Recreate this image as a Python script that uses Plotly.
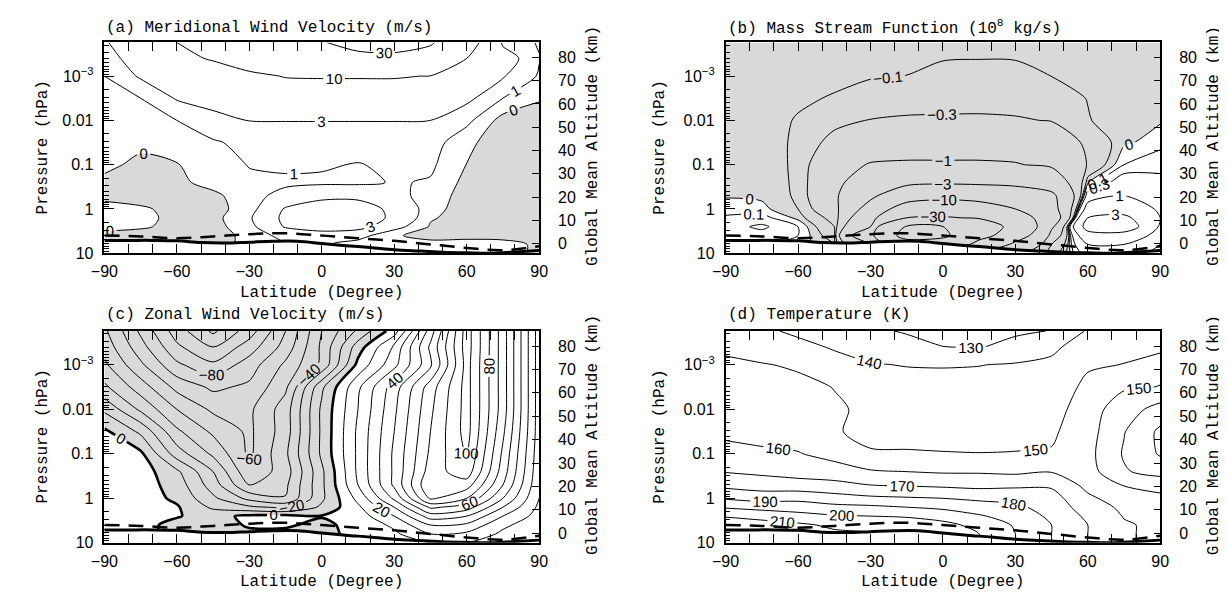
import numpy as np
import plotly.graph_objects as go

# ---------------- data ----------------
LAT = [-90, -75, -60, -45, -30, -15, 0, 15, 30, 45, 60, 75, 90]
# log10(pressure / hPa), top of the plot to bottom
LOGP = [-3.76, -3.4, -3.0, -2.5, -2.0, -1.5, -1.0, -0.6, -0.3, 0.0, 0.2, 0.4, 0.6, 0.8, 1.0]

# (a) meridional wind velocity (m/s)
V_MERID = [
    [2.6, 6, 10, 16, 20, 24, 29, 36, 37, 32, 14, 2.5, 0.8],
    [1.8, 4.5, 8.5, 10.5, 14, 17, 21, 25, 26, 22, 10, 4.5, 1.1],
    [1.0, 3.3, 5.5, 7, 8.5, 10.3, 10.5, 10.5, 10.5, 9.8, 6, 3.2, 0.8],
    [0.6, 1.0, 3.2, 4, 5, 6, 6, 6, 6, 5.5, 3.6, 1.0, 0.1],
    [0.5, 0.6, 1.0, 2.2, 3.05, 3.05, 3.05, 3.05, 3.05, 3.0, 1.3, -0.4, -0.5],
    [0.4, 0.3, 0.5, 0.8, 1.5, 2.0, 2.0, 2.0, 2.0, 1.5, 0.25, -0.6, -0.7],
    [0.3, -0.3, -0.05, 0.5, 1.05, 1.3, 1.2, 0.9, 1.4, 1.2, -0.02, -0.6, -0.6],
    [-0.3, -0.3, -0.2, 0.3, 0.8, 0.7, 0.7, 0.7, 1.1, 0.9, -0.3, -0.6, -0.6],
    [-0.3, -0.3, -0.2, -0.2, 0.5, 1.5, 2.5, 2.5, 1.5, 0.4, -0.3, -0.5, -0.4],
    [0.4, 0.1, -0.2, -0.3, 0.4, 3.2, 4, 4, 2.5, 0.3, -0.4, -0.4, -0.2],
    [0.5, 0.2, -0.2, -0.3, 0.8, 3.5, 4.5, 4.5, 2.5, 0.1, -0.4, -0.4, -0.2],
    [0.3, 0.1, -0.2, -0.3, 0.5, 3.2, 4, 3.8, 1.5, -0.1, -0.4, -0.4, -0.2],
    [-0.3, -0.3, -0.3, -0.3, 0.2, 1.5, 2, 1.5, 0.1, -0.3, -0.3, -0.2, -0.2],
    [-0.3, -0.3, -0.3, -0.3, 0.2, 1.0, 1.2, 0.5, 0.2, 0.3, 0.4, 0.2, -0.1],
    [-0.3, -0.3, -0.3, -0.3, 0.2, 1.0, 1.2, 0.5, 0.2, 0.3, 0.4, 0.2, -0.1],
]
V_LEVELS = [-30, -10, -3, -1, 0, 1, 3, 10, 30]

# (b) mass stream function (1e8 kg/s)
PSI = [
    [-0.02, -0.02, -0.03, -0.04, -0.05, -0.06, -0.07, -0.08, -0.08, -0.06, -0.04, -0.03, -0.02],
    [-0.02, -0.03, -0.04, -0.05, -0.07, -0.085, -0.095, -0.097, -0.095, -0.08, -0.05, -0.03, -0.02],
    [-0.03, -0.04, -0.05, -0.07, -0.09, -0.101, -0.13, -0.15, -0.14, -0.099, -0.06, -0.04, -0.03],
    [-0.03, -0.04, -0.08, -0.11, -0.16, -0.2, -0.22, -0.23, -0.22, -0.17, -0.095, -0.05, -0.03],
    [-0.04, -0.05, -0.11, -0.22, -0.31, -0.33, -0.33, -0.33, -0.32, -0.29, -0.11, -0.02, -0.01],
    [-0.04, -0.05, -0.12, -0.4, -0.55, -0.6, -0.6, -0.6, -0.58, -0.5, -0.25, -0.02, 0.05],
    [-0.04, -0.05, -0.12, -0.7, -1.05, -1.1, -1.1, -1.1, -1.05, -0.85, -0.28, 0.1, 0.2],
    [-0.03, -0.04, -0.12, -0.8, -1.5, -2.4, -2.5, -2.4, -2.2, -1.8, -0.02, 0.5, 0.4],
    [-0.01, -0.02, -0.12, -0.8, -2.5, -5, -6.5, -6, -5, -3.5, 0.5, 1.0, 0.6],
    [0.05, 0.03, -0.1, -0.6, -4, -15, -18, -15, -10, -4, 1.5, 2, 0.8],
    [0.12, 0.15, -0.03, -0.4, -6, -30, -32, -28, -15, -5, 3, 3.5, 1.0],
    [0.2, 0.35, 0.1, -0.3, -10, -105, -100.5, -50, -20, -3.5, 4, 4.5, 0.8],
    [0.15, 0.2, 0.1, -0.2, -20, -130, -115, -40, -15, -2, 2, 2, 0.5],
    [0.1, 0.1, 0.05, -0.1, -10, -60, -60, -20, -8, -1, 1, 1, 0.3],
    [0.1, 0.1, 0.05, -0.1, -5, -30, -30, -10, -4, -0.5, 0.5, 0.5, 0.2],
]
PSI_LEVELS = [-100, -30, -10, -3, -1, -0.3, -0.1, 0, 0.1, 0.3, 1, 3, 10, 30, 100]

# (c) zonal wind velocity (m/s)
U_ZONAL = [
    [-48, -72, -95, -112, -95, -70, -40, -18, 5, 55, 105, 65, 15],
    [-44, -66, -88, -100, -85, -66, -38, -5, 22, 62, 105, 65, 15],
    [-38, -58, -78, -88, -75, -58, -38, 3, 27, 58, 104, 65, 15],
    [-28, -45, -63, -72, -68, -52, -12, 18, 45, 75, 104, 65, 15],
    [-12, -32, -50, -62, -62, -45, -8, 20, 48, 78, 104, 65, 15],
    [2, -12, -38, -52, -62, -45, -8, 22, 50, 80, 104, 62, 15],
    [5, 2, -25, -42, -62, -42, -8, 22, 52, 82, 101, 58, 14],
    [5, 5, -8, -30, -58, -45, -12, 22, 52, 85, 96, 55, 13],
    [5, 5, -4.5, -25, -50, -42, -12, 20, 52, 90, 85, 50, 12],
    [5, 5, -2, -18, -33, -39.5, -12, 13, 42, 82, 70, 40, 10],
    [4, 4, 1, -12, -18, -22, -8, 8, 30, 62, 55, 30, 8],
    [3, 3, 0.5, -3, 2, 3, 0.5, 5, 20, 45, 40, 20, 6],
    [2, 2, -2, -4, 1, 1, -2, 3, 12, 30, 28, 12, 4],
    [2, 2, -2, -4, -2, -2, -2, 2, 8, 20, 18, 8, 3],
    [2, 2, -2, -4, -2, -2, -2, 1, 4, 10, 10, 4, 2],
]

# (d) temperature (K)
TEMP = [
    [146, 142, 138, 134, 132, 129, 126, 126, 128.5, 130.3, 141, 146, 147],
    [148, 146, 143, 139, 137, 134, 130.2, 129.5, 133, 138, 145, 148, 149],
    [152, 150.5, 149, 144, 140.5, 139.7, 139.5, 139.8, 140.8, 142, 149, 150.2, 152],
    [154, 153, 152, 149.8, 146, 143, 143, 143, 144, 145, 152, 151, 149.8],
    [155, 155, 154, 151, 148.5, 145, 145, 145, 146, 147, 154, 145, 136],
    [158, 158, 156, 151, 147, 146, 146, 146.5, 147, 149, 154, 140.5, 128],
    [163, 161, 160.5, 157, 151, 151, 150.5, 150.2, 150.4, 150.5, 153, 139, 129],
    [169.5, 168, 166, 164, 161, 160, 159, 159, 158, 159.5, 154, 141, 136],
    [177, 175, 174, 173, 170, 169, 168, 167, 168, 168.5, 157, 149.5, 147],
    [189, 186, 187, 184, 182, 181, 180, 178, 177, 174, 162, 155, 152],
    [199, 197, 196, 193, 192, 190, 188, 185, 182, 176, 165, 158, 155],
    [209, 206, 203, 201, 200, 199, 196, 191, 186, 178, 168, 159.5, 157],
    [218, 215, 212, 208, 207, 206, 203, 197, 189, 180, 170, 161, 158],
    [222, 220, 216, 212, 210, 208, 205, 200, 190, 180, 170, 161, 158],
    [222, 220, 216, 212, 210, 208, 205, 200, 190, 180, 170, 161, 158],
]

# surface (thick solid) and the dashed line near the ground
SURF_LAT = [-90, -80, -70, -60, -50, -40, -30, -20, -10, 0, 10, 20, 30, 40, 50, 60, 70, 80, 90]
SURF_LOGP = [0.71, 0.71, 0.71, 0.72, 0.76, 0.77, 0.75, 0.73, 0.73, 0.78, 0.83, 0.87, 0.92,
             0.95, 0.975, 0.99, 1.0, 0.97, 0.94]
DASH_LAT = [-90, -75, -60, -45, -30, -15, 0, 15, 30, 45, 60, 75, 90]
DASH_LOGP = [0.60, 0.62, 0.66, 0.62, 0.57, 0.55, 0.60, 0.66, 0.72, 0.80, 0.88, 0.93, 0.84]

TITLES = ["(a) Meridional Wind Velocity (m/s)",
          "(b) Mass Stream Function (10<sup>8</sup> kg/s)",
          "(c) Zonal Wind Velocity (m/s)",
          "(d) Temperature (K)"]
LAT_TICKS = [-90, -60, -30, 0, 30, 60, 90]
LAT_MINOR = [-80, -70, -50, -40, -20, -10, 10, 20, 40, 50, 70, 80]
P_TICKVALS = [1, 0, -1, -2, -3]
P_TICKTEXT = ["10", "1", "0.1", "0.01", "10<sup>\u22123</sup>"]
ALT_TICKS = [0, 10, 20, 30, 40, 50, 60, 70, 80]

# ---------------- layout constants ----------------
W, H = 1227, 596
P_TOP, P_BOT = LOGP[0], LOGP[-1]
ALT0_LOGP = 0.784       # log10 p at 0 km
KM_PER_DECADE = 19.02
ALT_BOT = (ALT0_LOGP - P_BOT) * KM_PER_DECADE
ALT_TOP = (ALT0_LOGP - P_TOP) * KM_PER_DECADE
GRAY = "#d9d9d9"
TXT = "Liberation Mono"
SANS = "Liberation Sans"

PANELS = {1: ((84, 527), (35, 249)), 2: ((717, 1160), (35, 249)),
          3: ((84, 527), (328, 543)), 4: ((717, 1160), (328, 543))}

fig = go.Figure()


def names(k):
    return ("x" if k == 1 else f"x{k}", "y" if k == 1 else f"y{k}")


def add_fill(k, z):
    xa, ya = names(k)
    fig.add_trace(go.Contour(
        x=LAT, y=LOGP, z=z, xaxis=xa, yaxis=ya,
        contours=dict(type="constraint", operation=">", value=0),
        fillcolor=GRAY, line=dict(width=0, color="rgba(0,0,0,0)"),
        showscale=False, hoverinfo="skip"))


def add_lines(k, z, start, end, size, labels=True, width=1.0):
    xa, ya = names(k)
    fig.add_trace(go.Contour(
        x=LAT, y=LOGP, z=z, xaxis=xa, yaxis=ya, autocontour=False,
        contours=dict(coloring="none", start=start, end=end, size=size,
                      showlabels=labels, labelformat="~g",
                      labelfont=dict(family=SANS, size=15, color="black")),
        line=dict(color="black", width=width, smoothing=0.8),
        showscale=False, hoverinfo="skip"))


def add_ground(k):
    xa, ya = names(k)
    fig.add_trace(go.Scatter(
        x=SURF_LAT + [SURF_LAT[-1], SURF_LAT[0]], y=SURF_LOGP + [P_BOT, P_BOT],
        xaxis=xa, yaxis=ya, mode="lines", fill="toself", fillcolor="white",
        line=dict(width=0, color="white"), hoverinfo="skip", showlegend=False))
    fig.add_trace(go.Scatter(
        x=DASH_LAT, y=DASH_LOGP, xaxis=xa, yaxis=ya, mode="lines",
        line=dict(color="black", width=2.5, dash="15px,9px", shape="spline"),
        hoverinfo="skip", showlegend=False))
    fig.add_trace(go.Scatter(
        x=SURF_LAT, y=SURF_LOGP, xaxis=xa, yaxis=ya, mode="lines",
        line=dict(color="black", width=3, shape="spline"),
        hoverinfo="skip", showlegend=False))
    # empty trace so that the right-hand altitude axis gets its own subplot
    fig.add_trace(go.Scatter(x=[], y=[], xaxis=xa, yaxis=f"y{k + 4}",
                             mode="lines", hoverinfo="skip", showlegend=False))


# (a)
add_fill(1, V_MERID)
for lv in V_LEVELS:
    add_lines(1, V_MERID, lv, lv, 1)
add_ground(1)
# (b)
add_fill(2, PSI)
for lv in PSI_LEVELS:
    add_lines(2, PSI, lv, lv, 1)
add_ground(2)
# (c)
add_fill(3, U_ZONAL)
add_lines(3, U_ZONAL, -110, 110, 20, labels=False)
add_lines(3, U_ZONAL, -100, -20, 20)
add_lines(3, U_ZONAL, 20, 100, 20)
add_lines(3, U_ZONAL, 0, 0, 1, width=2.6)
add_ground(3)
# (d)
add_lines(4, TEMP, 120, 230, 10)
add_ground(4)

minor_logp = [float(np.log10(m * 10.0 ** e)) for e in range(-4, 1) for m in range(2, 10)]
minor_logp = [v for v in minor_logp if P_TOP <= v <= P_BOT]

tickfont = dict(family=SANS, size=16, color="black")
layout = dict(width=W, height=H, margin=dict(l=0, r=0, t=0, b=0),
              paper_bgcolor="white", plot_bgcolor="white", showlegend=False,
              annotations=[])

for k, (px, py) in PANELS.items():
    xa, ya = names(k)
    xd = [px[0] / W, px[1] / W]
    yd = [1 - py[1] / H, 1 - py[0] / H]
    xkey = "xaxis" if k == 1 else f"xaxis{k}"
    ykey = "yaxis" if k == 1 else f"yaxis{k}"
    rkey = f"yaxis{k + 4}"
    layout[xkey] = dict(
        domain=xd, anchor=ya, range=[-90, 90], tickvals=LAT_TICKS,
        ticks="inside", ticklen=9, tickwidth=1.2, tickcolor="black",
        mirror="allticks", showline=True, linecolor="black", linewidth=1.5,
        showgrid=False, zeroline=False, tickfont=tickfont, ticklabelstandoff=3,
        minor=dict(tickvals=LAT_MINOR, ticks="inside", ticklen=5, tickwidth=1,
                   tickcolor="black"))
    layout[ykey] = dict(
        domain=yd, anchor=xa, range=[P_BOT, P_TOP], tickvals=P_TICKVALS,
        ticktext=P_TICKTEXT, ticks="inside", ticklen=10, tickwidth=1.2,
        tickcolor="black", showline=True, linecolor="black", linewidth=1.5,
        showgrid=False, zeroline=False, tickfont=tickfont, ticklabelstandoff=6,
        minor=dict(tickvals=minor_logp, ticks="inside", ticklen=5, tickwidth=1,
                   tickcolor="black"))
    layout[rkey] = dict(
        overlaying=ya, anchor=xa, side="right", range=[ALT_BOT, ALT_TOP],
        tickvals=ALT_TICKS, ticks="inside", ticklen=7, tickwidth=1.2,
        tickcolor="black", showline=True, linecolor="black", linewidth=1.5,
        showgrid=False, zeroline=False, tickfont=tickfont, ticklabelstandoff=14)

    cx = (px[0] + px[1]) / 2
    cy = (py[0] + py[1]) / 2
    title_y = py[0] - 15 if k <= 2 else py[0] - 16
    left_x = px[0] - 63 if k % 2 == 1 else px[0] - 67
    right_x = px[1] + 55
    ann = layout["annotations"]
    ann.append(dict(text=TITLES[k - 1], x=px[0] / W, y=1 - title_y / H,
                    xref="paper", yref="paper", xanchor="left", yanchor="middle",
                    showarrow=False, font=dict(family=TXT, size=16, color="black")))
    ann.append(dict(text="Pressure (hPa)", x=left_x / W, y=1 - cy / H,
                    xref="paper", yref="paper", xanchor="center", yanchor="middle",
                    textangle=-90, showarrow=False,
                    font=dict(family=TXT, size=16, color="black")))
    ann.append(dict(text="Global Mean Altitude (km)", x=right_x / W, y=1 - (cy - 2) / H,
                    xref="paper", yref="paper", xanchor="center", yanchor="middle",
                    textangle=-90, showarrow=False,
                    font=dict(family=TXT, size=16, color="black")))
    ann.append(dict(text="Latitude (Degree)", x=cx / W, y=1 - (py[1] + 40) / H,
                    xref="paper", yref="paper", xanchor="center", yanchor="middle",
                    showarrow=False, font=dict(family=TXT, size=16, color="black")))

fig.update_layout(layout)
fig.write_html("out.html")
